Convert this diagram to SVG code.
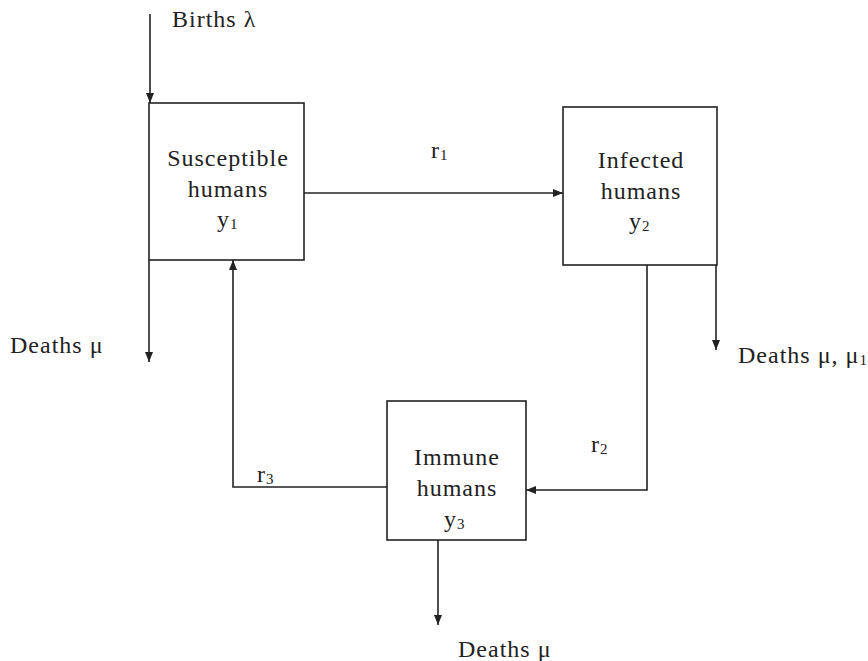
<svg xmlns="http://www.w3.org/2000/svg" width="868" height="661" viewBox="0 0 868 661">
<defs>
<style>
.box{fill:#fff;stroke:#222;stroke-width:1.6}
.ln{fill:none;stroke:#222;stroke-width:1.6}
text{font-family:"Liberation Serif","Times New Roman",serif;fill:#222;font-size:24px;letter-spacing:1px}
.c{text-anchor:middle}
.s{font-size:15px;letter-spacing:0}
</style>
<marker id="ah" viewBox="0 0 10 10" refX="10" refY="5" markerWidth="10" markerHeight="10" markerUnits="userSpaceOnUse" orient="auto">
<path d="M0,1 L10,5 L0,9 Z" fill="#222"/>
</marker>
</defs>
<rect width="868" height="661" fill="#fff"/>
<g id="connectors">
<path class="ln" d="M150,14 V103" marker-end="url(#ah)"/>
<path class="ln" d="M149,260 V362" marker-end="url(#ah)"/>
<path class="ln" d="M304,193 H563" marker-end="url(#ah)"/>
<path class="ln" d="M716,265 V350" marker-end="url(#ah)"/>
<path class="ln" d="M647,265 V490 H526" marker-end="url(#ah)"/>
<path class="ln" d="M387,487 H233 V260" marker-end="url(#ah)"/>
<path class="ln" d="M438,540 V625" marker-end="url(#ah)"/>
</g>
<g id="susceptible">
<rect class="box" x="149" y="103" width="155" height="157"/>
<text class="c" x="228" y="166">Susceptible</text>
<text class="c" x="228" y="197">humans</text>
<text x="217" y="227">y<tspan class="s" dy="2">1</tspan></text>
</g>
<g id="infected">
<rect class="box" x="563" y="107" width="154" height="158"/>
<text class="c" x="641" y="168">Infected</text>
<text class="c" x="641" y="199">humans</text>
<text x="629" y="229">y<tspan class="s" dy="2">2</tspan></text>
</g>
<g id="immune">
<rect class="box" x="387" y="401" width="139" height="139"/>
<text class="c" x="457" y="465">Immune</text>
<text class="c" x="457" y="496">humans</text>
<text x="444" y="527">y<tspan class="s" dy="2">3</tspan></text>
</g>
<g id="labels">
<text x="172" y="27">Births λ</text>
<text x="10" y="353">Deaths μ</text>
<text x="738" y="363">Deaths μ, μ<tspan class="s" dy="2">1</tspan></text>
<text x="458" y="657">Deaths μ</text>
<text x="431" y="158">r<tspan class="s" dy="2">1</tspan></text>
<text x="591" y="452">r<tspan class="s" dy="2">2</tspan></text>
<text x="257" y="482">r<tspan class="s" dy="2">3</tspan></text>
</g>
</svg>
